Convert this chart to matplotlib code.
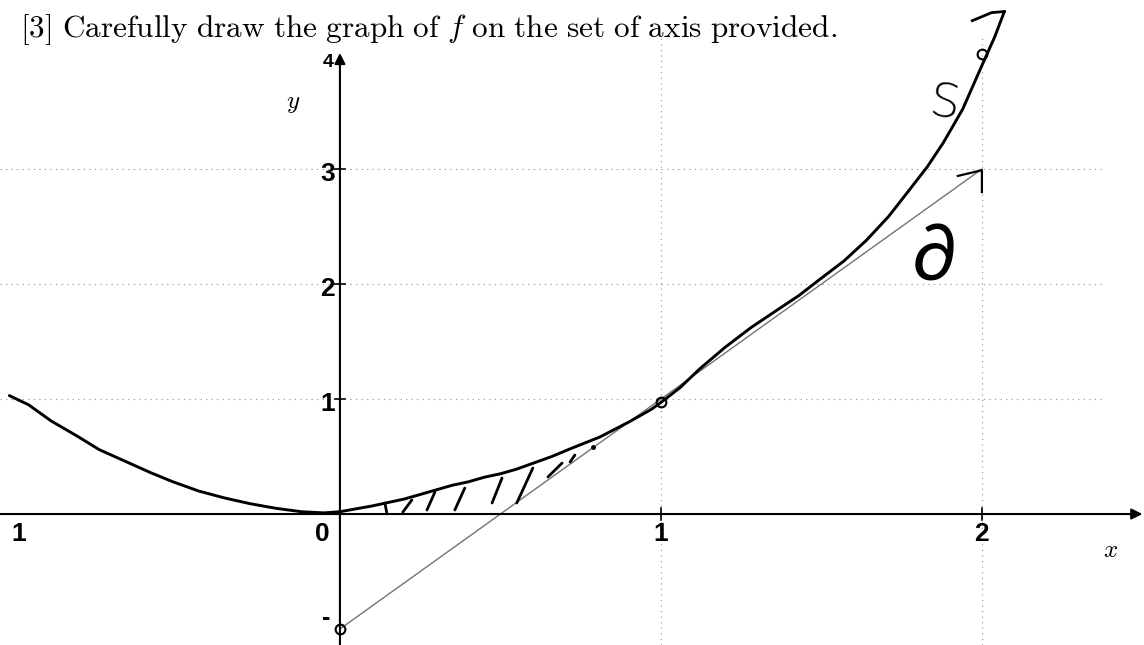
import numpy as np
import matplotlib.pyplot as plt

plt.rcParams['mathtext.fontset'] = 'cm'

# hand-drawn graph of f
f_x = [-1.03, -0.97, -0.90, -0.82, -0.75, -0.67, -0.59, -0.52, -0.44, -0.36,
       -0.28, -0.20, -0.12, -0.05, 0.0, 0.06, 0.10, 0.15, 0.20, 0.25, 0.30,
       0.35, 0.40, 0.45, 0.50, 0.55, 0.60, 0.66, 0.72, 0.81, 0.90, 0.97, 1.0,
       1.06, 1.12, 1.20, 1.28, 1.36, 1.43, 1.49, 1.57, 1.64, 1.71, 1.78, 1.83,
       1.88, 1.94, 2.0, 2.04, 2.07]
f_y = [1.03, 0.95, 0.81, 0.68, 0.56, 0.46, 0.36, 0.28, 0.20, 0.14,
       0.09, 0.05, 0.02, 0.01, 0.02, 0.05, 0.07, 0.10, 0.13, 0.17, 0.21,
       0.25, 0.28, 0.32, 0.35, 0.39, 0.44, 0.50, 0.57, 0.67, 0.80, 0.91, 0.97,
       1.10, 1.26, 1.45, 1.62, 1.77, 1.90, 2.03, 2.20, 2.38, 2.59, 2.84, 3.02,
       3.23, 3.52, 3.90, 4.15, 4.37]

# tangent line g(x) = 2x - 1, drawn from (0, -1) to (2, 3)
g_x = [0, 2]
g_y = [-1, 3]

# points circled on the sketch
marked_x = [0, 1, 2]
marked_y = [-1, 0.97, 4]

# shading strokes between f and g
hatch_x0 = [0.146, 0.196, 0.271, 0.358, 0.474, 0.551, 0.648, 0.717]
hatch_y0 = [0.009, 0.017, 0.035, 0.035, 0.096, 0.096, 0.322, 0.452]
hatch_x1 = [0.140, 0.224, 0.296, 0.389, 0.505, 0.601, 0.692, 0.732]
hatch_y1 = [0.096, 0.122, 0.191, 0.226, 0.313, 0.400, 0.443, 0.513]

grid_x = [1, 2]
grid_y = [1, 2, 3]
xtick_labels = {-1: '1', 0: '0', 1: '1', 2: '2'}
ytick_labels = {1: '1', 2: '2', 3: '3'}

fig = plt.figure(figsize=(11.44, 6.45), dpi=100)
ax = fig.add_axes([0, 0, 1, 1])
ax.set_xlim(-1.059, 2.505)
ax.set_ylim(-1.139, 4.470)
ax.axis('off')

# dotted grid
for gx in grid_x:
    ax.plot([gx, gx], [-1.14, 4.15], color='0.55', lw=0.8, ls=(0, (1, 4)))
for gy in grid_y:
    ax.plot([-1.06, 2.38], [gy, gy], color='0.55', lw=0.8, ls=(0, (1, 4)))

# axes with arrows
ax.annotate('', xy=(2.50, 0), xytext=(-1.06, 0),
            arrowprops=dict(arrowstyle='-|>', color='black', lw=1.5,
                            mutation_scale=16, shrinkA=0, shrinkB=0))
ax.annotate('', xy=(0, 4.01), xytext=(0, -1.14),
            arrowprops=dict(arrowstyle='-|>', color='black', lw=1.5,
                            mutation_scale=16, shrinkA=0, shrinkB=0))
for gx in grid_x:
    ax.plot([gx, gx], [-0.05, 0.05], color='black', lw=1.2)
for gy in grid_y:
    ax.plot([-0.015, 0.015], [gy, gy], color='black', lw=1.2)

tick_font = dict(family='Liberation Sans', fontsize=19, fontweight='bold',
                 color='black')
for xv, lab in xtick_labels.items():
    xx = xv - 0.055 if xv == 0 else xv
    ax.text(xx, -0.17, lab, ha='center', va='center', **tick_font)
for yv, lab in ytick_labels.items():
    ax.text(-0.015, yv - 0.04, lab, ha='right', va='center', **tick_font)
ax.text(-0.02, 3.93, '4', ha='right', va='center', family='Liberation Sans',
        fontsize=14, fontweight='bold')
ax.text(-0.03, -0.9, '-', ha='right', va='center', family='Liberation Sans',
        fontsize=18, fontweight='bold')

ax.text(-0.146, 3.57, r'$y$', ha='center', va='center', fontsize=18)
ax.text(2.40, -0.31, r'$x$', ha='center', va='center', fontsize=18)

# f and g
ax.plot(g_x, g_y, color='0.45', lw=1.0)
ax.plot(f_x, f_y, color='black', lw=2.1, solid_capstyle='round',
        solid_joinstyle='round')
ax.plot([2.07, 2.03, 1.97], [4.37, 4.36, 4.29], color='black', lw=2.0)
ax.plot([1.925, 2.0, 2.0], [2.94, 2.99, 2.80], color='black', lw=1.6)
ax.plot(marked_x, marked_y, 'o', ms=7, mfc='none', mec='black', mew=1.5)

for x0, y0, x1, y1 in zip(hatch_x0, hatch_y0, hatch_x1, hatch_y1):
    ax.plot([x0, x1], [y0, y1], color='black', lw=2.0, solid_capstyle='round')
ax.plot([0.788], [0.583], 'o', ms=2.5, color='black')

# handwritten labels
ax.text(1.885, 3.56, 'S', ha='center', va='center', family='DejaVu Sans',
        fontsize=34, fontweight='light', rotation=-8)
ax.text(1.85, 2.22, '\u2202', ha='center', va='center',
        family=['Lato', 'DejaVu Sans'], fontweight='normal', fontsize=56)

fig.text(0.0175, 0.943,
         r'$\mathrm{[3]\ Carefully\ draw\ the\ graph\ of}\ f\ '
         r'\mathrm{on\ the\ set\ of\ axis\ provided.}$',
         ha='left', va='baseline', fontsize=22.5)

fig.savefig('out.png', dpi=100)
